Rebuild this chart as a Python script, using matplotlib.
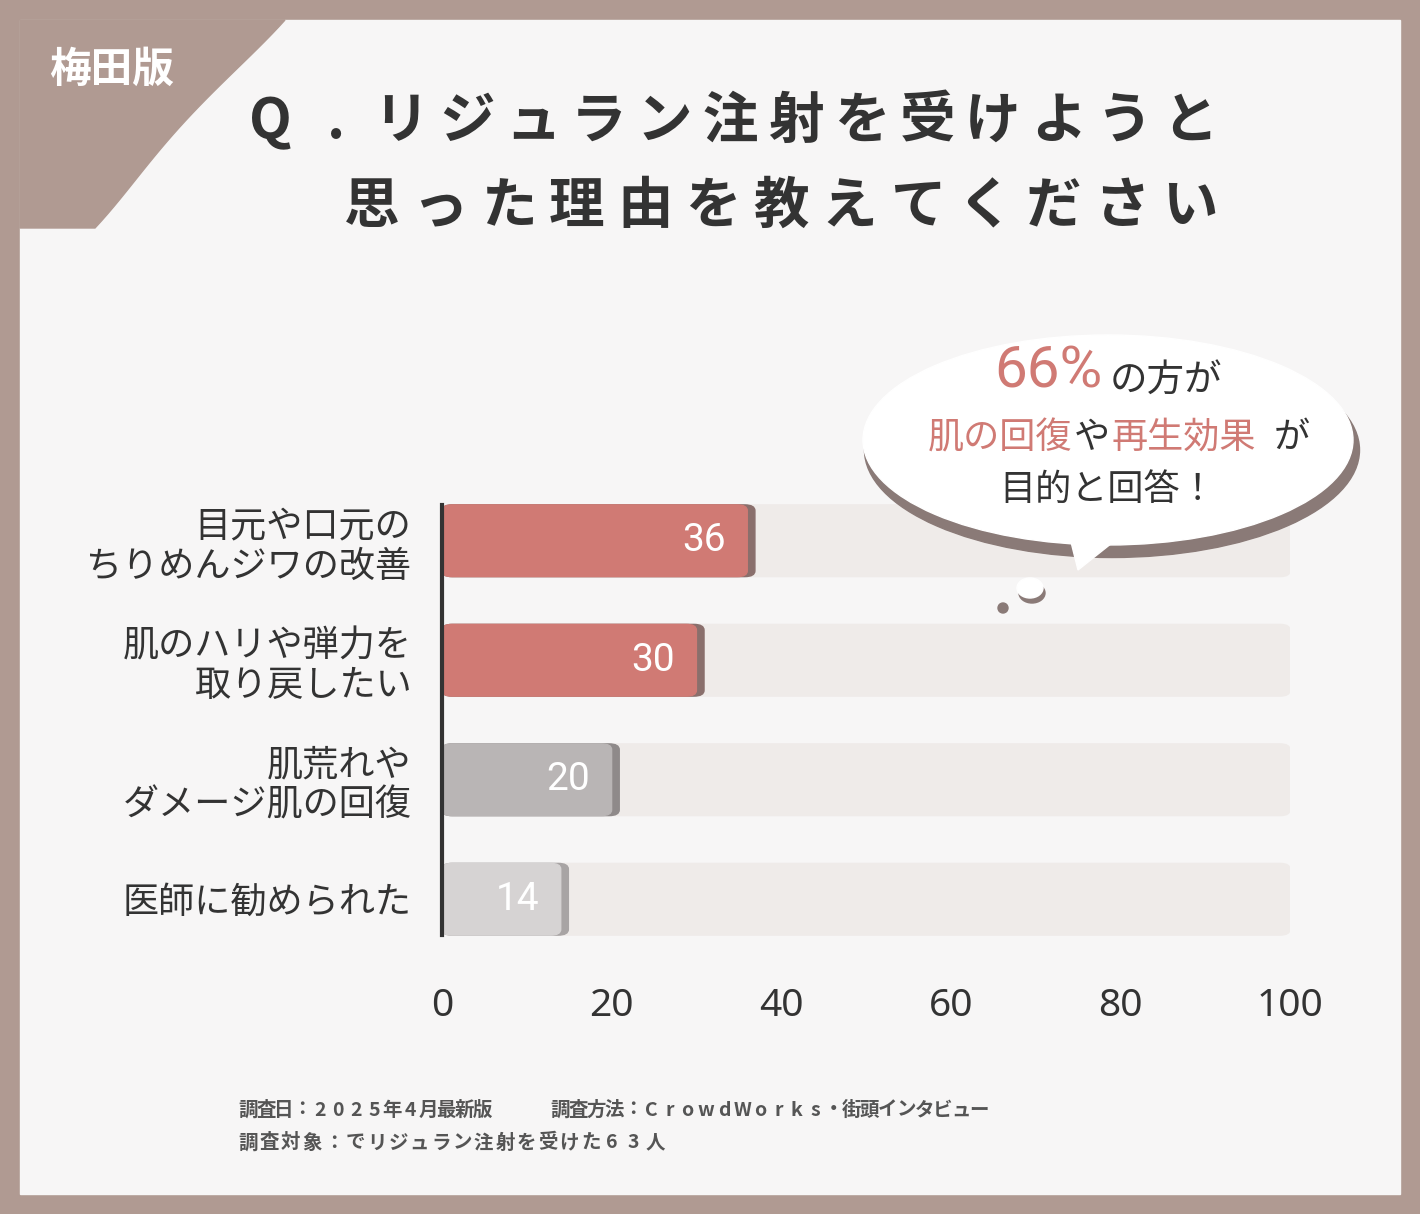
import matplotlib
matplotlib.use("Agg")
import matplotlib.pyplot as plt
from matplotlib.patches import FancyBboxPatch, Ellipse, Polygon, Rectangle
import numpy as np

plt.rcParams['font.family'] = 'Noto Sans CJK JP'

categories = ["目元や口元の\nちりめんジワの改善", "肌のハリや弾力を\n取り戻したい", "肌荒れや\nダメージ肌の回復", "医師に勧められた"]
values = [36, 30, 20, 14]
colors = ["#d07a74", "#d07a74", "#b9b5b5", "#d6d3d3"]
shadow = ["#8a6f6c", "#8a6f6c", "#8f8a8a", "#a8a4a4"]
ticks = [0, 20, 40, 60, 80, 100]

W, H = 1420, 1214
fig = plt.figure(figsize=(W/100, H/100), dpi=100)
fig.patch.set_facecolor("#b09a92")

bg = fig.add_axes([0, 0, 1, 1])
bg.set_xlim(0, W); bg.set_ylim(H, 0); bg.axis("off")
bg.add_patch(Rectangle((20, 20), 1380, 1174, color="#f7f6f6", zorder=0))
t = np.linspace(0, 1, 30)
curve = [(285 - 60*s - 80*np.sin(np.pi*s)*0.5 - 130*s**2, 20 + 208*s) for s in t]
blob = Polygon([(20, 20)] + curve + [(20, 228)], closed=True, color="#b09a92", zorder=1)
bg.add_patch(blob)
bg.text(112, 70, "梅田版", color="white", fontsize=30, fontweight="bold", ha="center", va="center", zorder=2)

def spaced(text, x0, x1, y, **kw):
    n = len(text)
    for i, ch in enumerate(text):
        bg.text(x0 + (x1 - x0) * i / (n - 1), y, ch, ha="center", va="center", **kw)

spaced("Q.リジュラン注射を受けようと", 270, 1190, 122, fontsize=40, fontweight="bold", color="#333")
spaced("思った理由を教えてください", 372, 1190, 207, fontsize=40, fontweight="bold", color="#333")

spaced("調査日：2025年4月最新版", 248, 482, 1110, fontsize=14, fontweight="bold", color="#555")
spaced("調査方法：CrowdWorks・街頭インタビュー", 560, 979, 1110, fontsize=14, fontweight="bold", color="#555")
spaced("調査対象：でリジュラン注射を受けた63人", 248, 655, 1143, fontsize=14, fontweight="bold", color="#555")

ax = fig.add_axes([442/W, 1-959/H, 848/W, 478/H])
ax.set_facecolor("none")
ax.set_xlim(0, 100); ax.set_ylim(3.5, -0.5)
ys = np.arange(len(categories))
bh = 0.6
for y, v, c, s in zip(ys, values, colors, shadow):
    ax.add_patch(FancyBboxPatch((0, y-bh/2), 100, bh, boxstyle="round,pad=0,rounding_size=1.2",
                                mutation_aspect=0.04, color="#efebe9", zorder=1))
    ax.add_patch(FancyBboxPatch((0, y-bh/2), v+0.9, bh, boxstyle="round,pad=0,rounding_size=1.2",
                                mutation_aspect=0.04, color=s, zorder=2))
    ax.add_patch(FancyBboxPatch((0, y-bh/2), v, bh, boxstyle="round,pad=0,rounding_size=1.2",
                                mutation_aspect=0.04, color=c, zorder=3))
    ax.text(v-2.5, y, str(v), color="white", fontsize=28, ha="right", va="center", zorder=4, family="Roboto")
ax.plot([0, 0], [-0.3, 3.3], color="#333", lw=3, zorder=5, clip_on=False)
ax.set_yticks(ys); ax.set_yticklabels(categories, fontsize=26, color="#333", ha="right", linespacing=1.15)
ax.set_xticks(ticks); ax.set_xticklabels([str(t) for t in ticks], fontsize=28, color="#333", family="Noto Sans")
ax.tick_params(length=0, pad=20, axis="both")
ax.tick_params(axis="y", pad=22)
for sp in ax.spines.values(): sp.set_visible(False)

top = fig.add_axes([0, 0, 1, 1])
top.set_xlim(0, W); top.set_ylim(H, 0); top.axis("off"); top.set_facecolor("none")
top.add_patch(Ellipse((1112, 450), 495, 215, color="#8a7a77", zorder=3))
top.add_patch(Ellipse((1108, 440), 490, 210, color="white", zorder=4))
top.add_patch(Polygon([(1068, 530), (1078, 570), (1122, 535)], closed=True, color="white", zorder=4))
top.add_patch(Ellipse((1032, 593), 26, 20, color="#8a7a77", zorder=3))
top.add_patch(Ellipse((1030, 588), 26, 20, color="white", zorder=4))
top.add_patch(Ellipse((1003, 608), 10, 10, color="#8a7a77", zorder=4))
top.text(1103, 372, "66%", fontsize=42, color="#d07a74", ha="right", va="center", zorder=5, family="Roboto")
top.text(1110, 380, "の方が", fontsize=27, color="#333", ha="left", va="center", zorder=5)
top.text(1072, 438, "肌の回復", fontsize=26, color="#d07a74", ha="right", va="center", zorder=5)
top.text(1092, 438, "や", fontsize=26, color="#333", ha="center", va="center", zorder=5)
top.text(1112, 438, "再生効果", fontsize=26, color="#d07a74", ha="left", va="center", zorder=5)
top.text(1292, 438, "が", fontsize=26, color="#333", ha="center", va="center", zorder=5)
top.text(1108, 490, "目的と回答！", fontsize=26, color="#333", ha="center", va="center", zorder=5)

fig.savefig("out.png", dpi=100, facecolor=fig.get_facecolor())
